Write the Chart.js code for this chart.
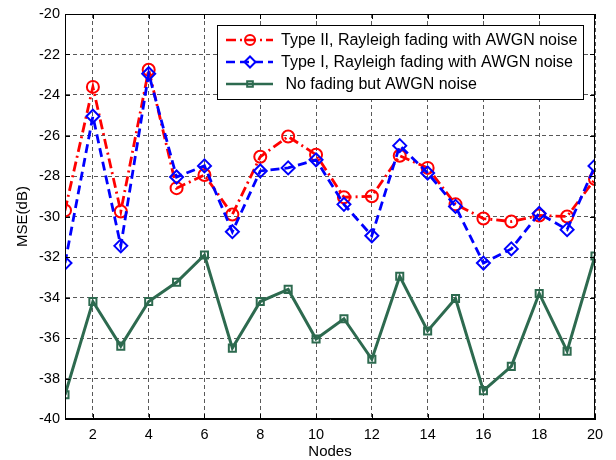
<!DOCTYPE html>
<html>
<head>
<meta charset="utf-8">
<script src="https://cdn.jsdelivr.net/npm/chart.js@4.4.1/dist/chart.umd.min.js"></script>
<style>
  html, body { margin: 0; padding: 0; background: #fff; }
  #wrap { width: 616px; height: 460px; }
</style>
</head>
<body>
<div id="wrap"><canvas id="mse" width="616" height="460"></canvas></div>
<script>
const nodes = [1, 2, 3, 4, 5, 6, 7, 8, 9, 10, 11, 12, 13, 14, 15, 16, 17, 18, 19, 20];
const typeII = [-29.7, -23.6, -29.75, -22.75, -28.6, -27.95, -29.9, -27.05, -26.05, -26.95,
                -29.05, -29.0, -27.0, -27.6, -29.4, -30.1, -30.25, -29.95, -30.0, -28.15];
const typeI = [-32.3, -25.05, -31.45, -22.95, -28.05, -27.5, -30.75, -27.75, -27.6, -27.2,
               -29.4, -30.95, -26.5, -27.85, -29.5, -32.3, -31.6, -29.85, -30.65, -27.5];
const noFading = [-38.8, -34.2, -36.4, -34.2, -33.25, -31.9, -36.5, -34.2, -33.6, -36.05,
                  -35.05, -37.05, -32.95, -35.65, -34.05, -38.6, -37.4, -33.8, -36.65, -31.95];
const xTicks = [2, 4, 6, 8, 10, 12, 14, 16, 18, 20];
const yTicks = [-40, -38, -36, -34, -32, -30, -28, -26, -24, -22, -20];
const seriesNames = [
  'Type II, Rayleigh fading with AWGN noise',
  'Type I, Rayleigh fading with AWGN noise',
  ' No fading but AWGN noise'
];

const RED = '#ff0000';
const BLUE = '#0000ff';
const GREEN = '#2d6a4f';
const FONT = '"Liberation Sans", Arial, sans-serif';
const GRID_DASH = [4, 3];

function toPoints(values) {
  return values.map((v, i) => ({ x: nodes[i], y: v }));
}

const styles = [
  { color: RED, dash: [10, 4, 2, 4], point: 'circle', radius: 6 },
  { color: BLUE, dash: [9, 5], point: 'rectRot', radius: 6.5 },
  { color: GREEN, dash: [], point: 'rect', radius: 5 }
];

// frame, inward ticks, titles and the boxed legend, drawn like the original figure
const figureDecor = {
  id: 'figureDecor',
  afterDraw(chart) {
    const { ctx, chartArea: a, scales } = chart;
    ctx.save();
    ctx.strokeStyle = '#000';
    ctx.lineWidth = 1;
    ctx.setLineDash([]);
    ctx.strokeRect(a.left + 0.5, a.top + 0.5, a.right - a.left - 1, a.bottom - a.top - 1);

    ctx.beginPath();
    xTicks.forEach(t => {
      const x = Math.round(scales.x.getPixelForValue(t)) + 0.5;
      ctx.moveTo(x, a.bottom); ctx.lineTo(x, a.bottom - 5);
      ctx.moveTo(x, a.top); ctx.lineTo(x, a.top + 5);
    });
    yTicks.forEach(t => {
      const y = Math.round(scales.y.getPixelForValue(t)) + 0.5;
      ctx.moveTo(a.left, y); ctx.lineTo(a.left + 5, y);
      ctx.moveTo(a.right, y); ctx.lineTo(a.right - 5, y);
    });
    ctx.stroke();

    ctx.fillStyle = '#000';
    ctx.font = '15px ' + FONT;
    ctx.textAlign = 'center';
    ctx.textBaseline = 'middle';
    ctx.fillText('Nodes', (a.left + a.right) / 2, 452);
    ctx.save();
    ctx.translate(23, (a.top + a.bottom) / 2);
    ctx.rotate(-Math.PI / 2);
    ctx.fillText('MSE(dB)', 0, 0);
    ctx.restore();

    // legend box
    const box = { left: 217, top: 25, right: 583, bottom: 99 };
    ctx.fillStyle = '#fff';
    ctx.fillRect(box.left, box.top, box.right - box.left, box.bottom - box.top);
    ctx.strokeStyle = '#000';
    ctx.lineWidth = 1;
    ctx.strokeRect(box.left + 0.5, box.top + 0.5, box.right - box.left, box.bottom - box.top);

    const rows = [40, 62, 84];
    styles.forEach((s, i) => {
      const y = rows[i];
      ctx.strokeStyle = s.color;
      ctx.lineWidth = 2.5;
      ctx.setLineDash(s.dash);
      ctx.beginPath();
      ctx.moveTo(226, y); ctx.lineTo(273, y);
      ctx.stroke();
      ctx.setLineDash([]);
      ctx.lineWidth = 2;
      ctx.fillStyle = 'rgba(0,0,0,0)';
      Chart.helpers.drawPoint(ctx, { pointStyle: s.point, radius: s.radius - 1, borderWidth: 2 }, 250, y);
      ctx.fillStyle = '#000';
      ctx.font = '16px ' + FONT;
      ctx.textAlign = 'left';
      ctx.fillText(seriesNames[i], 281, y + 1);
    });
    ctx.restore();
  }
};

const seriesValues = [typeII, typeI, noFading];

new Chart(document.getElementById('mse'), {
  type: 'line',
  data: {
    datasets: seriesValues.map((vals, i) => ({
      label: seriesNames[i],
      data: toPoints(vals),
      borderColor: styles[i].color,
      borderWidth: i === 2 ? 3 : 2.8,
      borderDash: styles[i].dash,
      pointStyle: styles[i].point,
      pointRadius: styles[i].radius,
      pointBorderWidth: 2,
      pointBorderColor: styles[i].color,
      pointBackgroundColor: 'rgba(0,0,0,0)',
      tension: 0,
      fill: false,
      order: 3 - i
    }))
  },
  options: {
    responsive: false,
    animation: false,
    devicePixelRatio: 1,
    layout: { padding: { top: 14, right: 21, left: 0, bottom: 0 } },
    plugins: {
      legend: { display: false },
      tooltip: { enabled: false }
    },
    scales: {
      x: {
        type: 'linear',
        min: 1,
        max: 20,
        afterBuildTicks: scale => { scale.ticks = xTicks.map(v => ({ value: v })); },
        afterFit: scale => { scale.height = 41; },
        grid: {
          color: 'rgba(0,0,0,0.65)',
          drawTicks: false
        },
        border: { display: true, color: '#000', dash: GRID_DASH },
        ticks: {
          color: '#000',
          padding: 7,
          font: { family: FONT, size: 14.5 },
          maxRotation: 0
        }
      },
      y: {
        min: -40,
        max: -20,
        afterBuildTicks: scale => { scale.ticks = yTicks.map(v => ({ value: v })); },
        afterFit: scale => { scale.width = 65; },
        grid: {
          color: 'rgba(0,0,0,0.65)',
          drawTicks: false
        },
        border: { display: true, color: '#000', dash: GRID_DASH },
        ticks: {
          color: '#000',
          padding: 5,
          font: { family: FONT, size: 14.5 }
        }
      }
    }
  },
  plugins: [figureDecor]
});
</script>
</body>
</html>
